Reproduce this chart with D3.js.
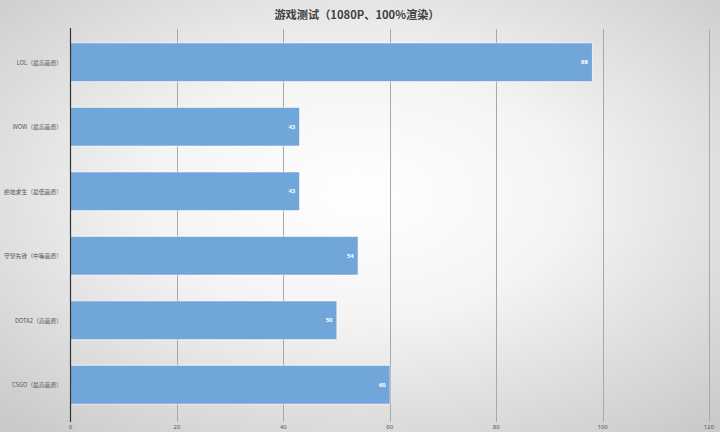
<!DOCTYPE html>
<html><head><meta charset="utf-8">
<script src="https://cdn.jsdelivr.net/npm/d3@7"></script>
<style>html,body{margin:0;padding:0;overflow:hidden;}svg{display:block;}</style>
</head><body>
<script>
const categories = ["LOL（最高画质）","WOW（最高画质）","绝地求生（最低画质）","守望先锋（中等画质）","DOTA2（高画质）","CSGO（最高画质）"];
const values = [98, 43, 43, 54, 50, 60];
const xTicks = [0, 20, 40, 60, 80, 100, 120];
const title = "游戏测试（1080P、100%渲染）";

const W = 720, H = 432;
const svg = d3.select("body").append("svg").attr("width", W).attr("height", H);
const defs = svg.append("defs");
const rg = defs.append("radialGradient").attr("id","bg").attr("cx","50%").attr("cy","45%").attr("r","72%");
rg.append("stop").attr("offset","0%").attr("stop-color","#ffffff");
rg.append("stop").attr("offset","40%").attr("stop-color","#f4f4f4");
rg.append("stop").attr("offset","100%").attr("stop-color","#cacaca");
svg.append("rect").attr("width",W).attr("height",H).attr("fill","url(#bg)");

const x = d3.scaleLinear().domain([0,120]).range([70.5, 709]);
const y = d3.scaleBand().domain(categories).range([30, 417]).paddingInner(0.41).paddingOuter(0.205);

// gridlines
svg.append("g").selectAll("line").data(xTicks.slice(1)).join("line")
  .attr("x1", d=>Math.round(x(d))+0.5).attr("x2", d=>Math.round(x(d))+0.5)
  .attr("y1", 29).attr("y2", 422)
  .attr("stroke", "#a8a8a8").attr("stroke-width", 1);

// bars
const f = defs.append("filter").attr("id","glow").attr("x","-5%").attr("y","-20%").attr("width","110%").attr("height","140%");
f.append("feGaussianBlur").attr("in","SourceAlpha").attr("stdDeviation",1.2).attr("result","b");
f.append("feFlood").attr("flood-color","#ffffff").attr("flood-opacity",0.9);
f.append("feComposite").attr("in2","b").attr("operator","in").attr("result","g");
const fm = f.append("feMerge"); fm.append("feMergeNode").attr("in","g"); fm.append("feMergeNode").attr("in","SourceGraphic");

svg.append("g").selectAll("rect").data(values).join("rect")
  .attr("x", x(0)).attr("y", (d,i)=>y(categories[i]))
  .attr("width", d=>x(d)-x(0)).attr("height", y.bandwidth())
  .attr("fill", "#6fa6d9").attr("filter","url(#glow)");

// value labels
svg.append("g").selectAll("text").data(values).join("text")
  .attr("x", d=>x(d)-4).attr("y", (d,i)=>y(categories[i])+y.bandwidth()/2)
  .attr("text-anchor","end").attr("dominant-baseline","central")
  .attr("font-family","'Noto Sans', sans-serif").attr("font-size",6).attr("font-weight","bold")
  .attr("fill","#ffffff").text(d=>d);

// y axis line
svg.append("line").attr("x1",70.5).attr("x2",70.5).attr("y1",28).attr("y2",422)
  .attr("stroke","#333").attr("stroke-width",1.2);

// y labels
svg.append("g").selectAll("text").data(categories).join("text")
  .attr("x", 62).attr("y", d=>y(d)+y.bandwidth()/2)
  .attr("text-anchor","end").attr("dominant-baseline","central")
  .attr("font-family","'Noto Sans CJK SC', sans-serif").attr("font-size",5.8)
  .attr("fill","#555").text(d=>d);

// x tick labels
svg.append("g").selectAll("text").data(xTicks).join("text")
  .attr("x", d=>x(d)).attr("y", 427)
  .attr("text-anchor","middle").attr("dominant-baseline","central")
  .attr("font-family","'Noto Sans', sans-serif").attr("font-size",6)
  .attr("fill","#555").text(d=>d);

// title
svg.append("text").attr("x",357).attr("y",14).attr("text-anchor","middle").attr("dominant-baseline","central")
  .attr("font-family","'Noto Sans CJK SC', sans-serif").attr("font-size",11.2).attr("font-weight","bold")
  .attr("fill","#404040").text(title);
</script>
</body></html>
